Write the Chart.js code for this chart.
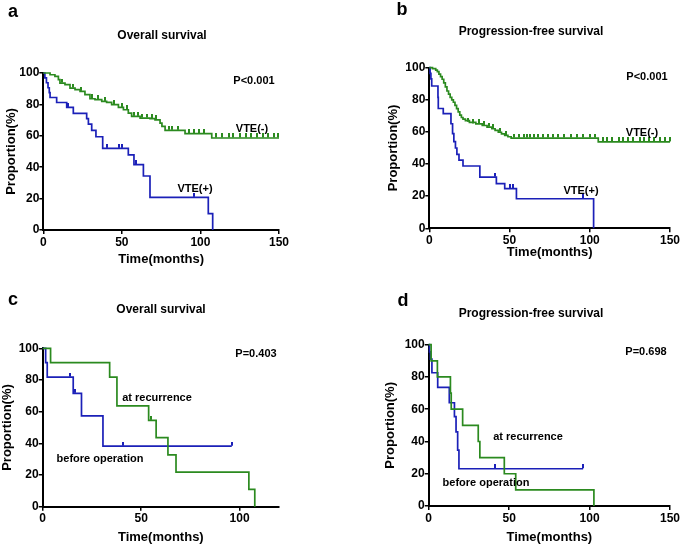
<!DOCTYPE html>
<html><head><meta charset="utf-8">
<script src="https://cdn.jsdelivr.net/npm/chart.js@4/dist/chart.umd.min.js"></script>
<style>
body{margin:0;background:#fff;}
#wrap{position:relative;width:681px;height:545px;font-family:"Liberation Sans",Arial,sans-serif;color:#000;overflow:hidden;}
canvas{position:absolute;}
.t{position:absolute;font-weight:bold;white-space:nowrap;line-height:1;transform:translate(-50%,-50%);}
.l{font-size:18px;}
.h{font-size:12px;}
.n{font-size:11px;}
</style></head><body>
<div id="wrap">
<canvas id="ca" style="left:0;top:0" width="340" height="270"></canvas>
<canvas id="cb" style="left:340px;top:0" width="341" height="270"></canvas>
<canvas id="cc" style="left:0;top:270px" width="340" height="275"></canvas>
<canvas id="cd" style="left:340px;top:270px" width="341" height="275"></canvas>

<div class="t l" style="left:13px;top:11px">a</div>
<div class="t l" style="left:402px;top:9px">b</div>
<div class="t l" style="left:13px;top:299px">c</div>
<div class="t l" style="left:403px;top:300px">d</div>

<div class="t h" style="left:162px;top:35px">Overall survival</div>
<div class="t h" style="left:531px;top:31px">Progression-free survival</div>
<div class="t h" style="left:161px;top:309px">Overall survival</div>
<div class="t h" style="left:531px;top:313px">Progression-free survival</div>

<div class="t n" style="left:254px;top:80px">P&lt;0.001</div>
<div class="t n" style="left:647px;top:76px">P&lt;0.001</div>
<div class="t n" style="left:256px;top:353px">P=0.403</div>
<div class="t n" style="left:646px;top:351px">P=0.698</div>

<div class="t n" style="left:252px;top:128px">VTE(-)</div>
<div class="t n" style="left:195px;top:188px">VTE(+)</div>
<div class="t n" style="left:642px;top:132px">VTE(-)</div>
<div class="t n" style="left:581px;top:190px">VTE(+)</div>

<div class="t n" style="left:157px;top:397px">at recurrence</div>
<div class="t n" style="left:100px;top:458px">before operation</div>
<div class="t n" style="left:528px;top:436px">at recurrence</div>
<div class="t n" style="left:486px;top:482px">before operation</div>
</div>
<script>
// ---------- data ----------
const yTicks = [0, 20, 40, 60, 80, 100];
const xTicks150 = [0, 50, 100, 150];
const xTicks120 = [0, 50, 100];

// Panel a: Overall survival, VTE(+) / VTE(-)
const aPosT = [0,1,2,3,3.8,4.3,8.5,14.9,19.1,27.6,28.7,30.8,33.5,37.8,54.1,57.7,63.7,67.9,105,107.8];
const aPosS = [100,96.9,93.8,90.6,87.5,84.4,81.2,78.1,74.3,71,67.5,63.5,59.4,52,47.8,41.6,34.4,20.8,10.4,0];
const aPosCT = [16,40.5,48,50,59,96];
const aPosCS = [78.1,52,52,52,41.6,20.8];
const aNegT = [0,4.3,7.4,9.6,10.6,13.8,17,20.2,23.4,26.5,29.7,32.9,37.2,40.3,43.5,47.8,51,54.1,56.2,61.6,67.9,71.1,74.3,75.5,77.5,90.2,107.2,150];
const aNegS = [100,98.9,97.9,95.8,93.6,92.6,90.4,89.4,88.3,86.2,83.6,83,81.9,81.3,79.8,78.1,76.6,74.5,72.4,71.3,70.9,70.2,68.1,66,63.5,61.4,58.6,58.6];
const aNegCT = [12,19,24,31,35,39,45,50,53,58,60,63,66,69,72,80,82,86,93,96,99,102,110,114,118,121,125,129,132,136,140,143,147,149.5];
const aNegCS = [93.6,90.4,88.3,83.6,83,81.9,79.8,78.1,76.6,72.4,72.4,71.3,71.3,70.9,70.2,63.5,63.5,63.5,61.4,61.4,61.4,61.4,58.6,58.6,58.6,58.6,58.6,58.6,58.6,58.6,58.6,58.6,58.6,58.6];

// Panel b: Progression-free survival, VTE(+) / VTE(-)
const bPosT = [0,0.5,1,1.5,5.4,5.6,8.7,13.5,14.5,15.3,16.3,17.2,18.5,21,31.5,41.8,47,54.3,102.4];
const bPosS = [100,96.5,93,88.6,81.5,74.6,71.4,65.1,59,54,50,46,42.5,38.8,31.9,27.8,24.7,18.4,0];
const bPosCT = [41,50,52,96];
const bPosCS = [31.9,24.7,24.7,18.4];
const bNegT = [0,2,4,5,6,7,8,9,10,11,12,13,14,15,16,17,18,19,20,21,22.5,25,29,33,36,39,41,43,45,47,49,51,105.3,150];
const bNegS = [100,99.4,98.5,97.5,96,94.5,92.8,90.5,88,85.5,83.5,81.5,80,78.5,76.5,74.5,72.5,70.5,69,68,67,66,65,64,63,62,61,59.8,58.8,57.8,57,56.2,53.8,53.8];
const bNegCT = [24,27,31,34,37,40,44,48,53,56,59,61,63,65,68,71,74,77,80,84,88,92,96,100,103,108,111,114,118,121,124,127,131,134,137,140,144,147,150];
const bNegCS = [66,65,65,64,63,62,59.8,57.8,56.2,56.2,56.2,56.2,56.2,56.2,56.2,56.2,56.2,56.2,56.2,56.2,56.2,56.2,56.2,56.2,56.2,53.8,53.8,53.8,53.8,53.8,53.8,53.8,53.8,53.8,53.8,53.8,53.8,53.8,53.8];

// Panel c: Overall survival, at recurrence / before operation
const cRecT = [0,4,34,37.7,53.8,57.6,63.6,67.7,104.7,107.7];
const cRecS = [100,90.9,81.8,63.6,54.5,43.6,32.7,21.8,10.9,0];
const cRecCT = [55];
const cRecCS = [54.5];
const cBefT = [0,1.5,2.3,15.5,19.7,30.6,96];
const cBefS = [100,90.9,81.8,71.6,57.3,38.2,38.2];
const cBefCT = [14,16.5,40.7,96];
const cBefCS = [81.8,71.6,38.2,38.2];

// Panel d: Progression-free survival, at recurrence / before operation
const dRecT = [0,1.5,5.4,13.5,14,21.1,30.8,31.8,47,54.1,102.7];
const dRecS = [100,90,80,70,60,50,40,30,20,10,0];
const dBefT = [0,0.5,1,2,5.6,12.8,16,17,18,18.8,96];
const dBefS = [100,95.5,91,82.6,73.6,64,55.4,46,34.7,23.1,23.1];
const dBefCT = [41.2,96];
const dBefCS = [23.1,23.1];

// ---------- drawing ----------
const BLUE = '#1b20b8';
const GREEN = '#2b8a1f';
Chart.defaults.font.family = '"Liberation Sans", Arial, sans-serif';
Chart.defaults.color = '#000';

function tickImg(color) {
  const c = document.createElement('canvas');
  c.width = 2; c.height = 9;
  const g = c.getContext('2d');
  g.fillStyle = color;
  g.fillRect(0, 0, 2, 4);
  return c;
}
function pts(t, s) { return t.map((x, i) => ({x: x, y: s[i]})); }
function km(t, s, color) {
  return {type: 'line', data: pts(t, s), borderColor: color, borderWidth: 1.7,
    stepped: 'before', pointRadius: 0, fill: false, clip: false, tension: 0, order: 2};
}
function cens(t, s, color) {
  return {type: 'line', data: pts(t, s), showLine: false, pointStyle: tickImg(color),
    pointRadius: 3, borderWidth: 0, clip: false, order: 1};
}

function panel(id, p) {
  new Chart(document.getElementById(id), {
    type: 'line',
    data: {datasets: p.datasets},
    options: {
      responsive: false, animation: false, events: [],
      layout: {padding: {left: p.padL, right: p.padR, top: p.padT, bottom: 0}},
      plugins: {legend: {display: false}, tooltip: {enabled: false}},
      scales: {
        x: {
          type: 'linear', min: 0, max: p.xMax,
          afterBuildTicks: s => { s.ticks = p.xTicks.map(v => ({value: v})); },
          afterFit: s => { s.height = p.xH; },
          border: {display: true, color: '#000', width: 2},
          grid: {drawOnChartArea: false, color: '#000', lineWidth: 1.5, tickLength: 4},
          ticks: {color: '#000', font: {size: 12, weight: 'bold'}, padding: 1, maxRotation: 0, autoSkip: false},
          title: {display: true, text: 'Time(months)', color: '#000', font: {size: 13, weight: 'bold'},
            padding: {top: 0, bottom: p.xTitlePad}}
        },
        y: {
          type: 'linear', min: 0, max: 100,
          afterBuildTicks: s => { s.ticks = yTicks.map(v => ({value: v})); },
          afterFit: s => { s.width = p.yW; },
          border: {display: true, color: '#000', width: 2},
          grid: {drawOnChartArea: false, color: '#000', lineWidth: 1.5, tickLength: 4},
          ticks: {color: '#000', font: {size: 12, weight: 'bold'}, padding: 0, autoSkip: false},
          title: {display: true, text: 'Proportion(%)', color: '#000', font: {size: 13, weight: 'bold'},
            padding: {top: p.yTitlePad, bottom: 0}}
        }
      }
    }
  });
}

panel('ca', {padL: 0, padR: 61, padT: 73, yW: 43.3, xH: 40, xMax: 150, xTicks: xTicks150,
  xTitlePad: 3, yTitlePad: 4,
  datasets: [km(aNegT, aNegS, GREEN), km(aPosT, aPosS, BLUE),
             cens(aNegCT, aNegCS, GREEN), cens(aPosCT, aPosCS, BLUE)]});
panel('cb', {padL: 41.2, padR: 10, padT: 67.7, yW: 48.1, xH: 41.7, xMax: 150, xTicks: xTicks150,
  xTitlePad: 10, yTitlePad: 4,
  datasets: [km(bNegT, bNegS, GREEN), km(bPosT, bPosS, BLUE),
             cens(bNegCT, bNegCS, GREEN), cens(bPosCT, bPosCS, BLUE)]});
panel('cc', {padL: 0, padR: 61, padT: 78.3, yW: 42.7, xH: 38.3, xMax: 120, xTicks: xTicks120,
  xTitlePad: 0, yTitlePad: 0,
  datasets: [km(cRecT, cRecS, GREEN), km(cBefT, cBefS, BLUE),
             cens(cRecCT, cRecCS, GREEN), cens(cBefCT, cBefCS, BLUE)]});
panel('cd', {padL: 38.2, padR: 11, padT: 74.7, yW: 50.5, xH: 39, xMax: 150, xTicks: xTicks150,
  xTitlePad: 0, yTitlePad: 4,
  datasets: [km(dRecT, dRecS, GREEN), km(dBefT, dBefS, BLUE),
             cens(dBefCT, dBefCS, BLUE)]});
</script>
</body></html>
